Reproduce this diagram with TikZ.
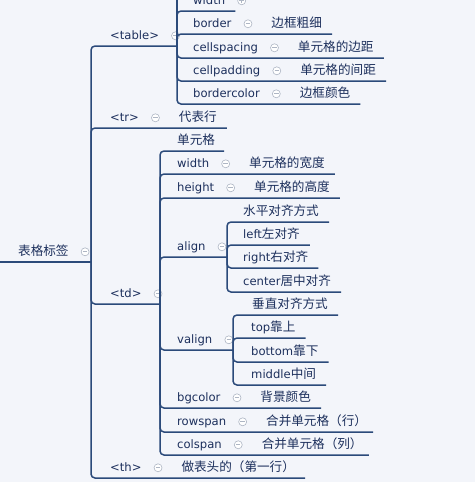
\documentclass[tikz,border=0pt]{standalone}
\usepackage{fontspec}
\setmainfont{DejaVu Sans}
\newfontfamily\zhfont{Noto Sans CJK SC}
\usepackage{tikz}
\usetikzlibrary{positioning}
\definecolor{mapbg}  {HTML}{F3F5FA}
\definecolor{mapline}{HTML}{2B4A7A}
\definecolor{mapink} {HTML}{1C2F5C}
\definecolor{mapfold}{HTML}{AEB6C4}
\newcommand{\zh}[1]{{\zhfont\fontsize{12.6}{15}\selectfont #1}}

\begin{document}
\begin{tikzpicture}[
  x=1pt, y=-1pt,
  topic/.style={anchor=south west,inner sep=0pt,text height=14pt,text depth=6pt,
                font=\fontsize{11.6}{14}\selectfont,text=mapink},
  fold/.style={circle,draw=mapfold,fill=white,minimum size=8pt,inner sep=0pt,line width=0.6pt,
               path picture={\draw[mapfold,line width=0.7pt]
                 ([xshift=-2.2pt]path picture bounding box.center) --
                 ([xshift=2.2pt]path picture bounding box.center);}},
  foldplus/.style={circle,draw=mapfold,fill=white,minimum size=8pt,inner sep=0pt,line width=0.6pt,
               path picture={\draw[mapfold,line width=0.7pt]
                 ([xshift=-2.2pt]path picture bounding box.center) --
                 ([xshift=2.2pt]path picture bounding box.center)
                 ([yshift=-2.2pt]path picture bounding box.center) --
                 ([yshift=2.2pt]path picture bounding box.center);}},
  link/.style={draw=mapline,line width=1.5pt,rounded corners=4pt}
]
\useasboundingbox (0,0) rectangle (475,482);
\clip (0,0) rectangle (475,482);
\fill[mapbg] (0,0) rectangle (475,482);

%% central topic (left)
\coordinate (rootl) at (-4,262);
\coordinate (rootj) at (91,262);
\node[topic] (root) at (18,262) {\zh{表格标签}};
\node[fold,right=12pt of root] (rootf) {};
\draw[link] (rootl) -- (rootj);

%% level 1: <table> <tr> <td> <th>
\node[topic] (tbl) at (110,46) {<table>};
\node[fold,right=12pt of tbl] (tblf) {};
\coordinate (tblj) at (177,46);
\draw[link] (rootj) -- (rootj |- tbl.south) -- (tblj);

\node[topic] (tr) at (110,128) {<tr>};
\node[fold,right=12pt of tr] (trf) {};
\node[topic,right=19pt of trf] (trn) {\zh{代表行}};
\draw[link] (rootj) -- (rootj |- tr.south) -- ([xshift=10pt]trn.south east);

\node[topic] (td) at (110,304) {<td>};
\node[fold,right=12pt of td] (tdf) {};
\coordinate (tdj) at (160,304);
\draw[link] (rootj) -- (rootj |- td.south) -- (tdj);

\node[topic] (th) at (110,478) {<th>};
\node[fold,right=12pt of th] (thf) {};
\node[topic,right=19pt of thf] (thn) {\zh{做表头的（第一行）}};
\draw[link] (rootj) -- (rootj |- th.south) -- ([xshift=10pt]thn.south east);

%% <table> attributes (top is cut off)
\coordinate (tbltop) at (177,-12);
\draw[link] (tblj) -- (tbltop);

\node[topic] (twidth) at (193,11) {width};
\node[foldplus,right=12pt of twidth] (twidthf) {};
\draw[link] (tblj) -- (tblj |- twidth.south) -- ([xshift=10pt]twidth.south east);

\node[topic] (border) at (193,34) {border};
\node[fold,right=12pt of border] (borderf) {};
\node[topic,right=19pt of borderf] (bordern) {\zh{边框粗细}};
\draw[link] (tblj) -- (tblj |- border.south) -- ([xshift=10pt]bordern.south east);

\node[topic] (cspace) at (193,58) {cellspacing};
\node[fold,right=12pt of cspace] (cspacef) {};
\node[topic,right=19pt of cspacef] (cspacen) {\zh{单元格的边距}};
\draw[link] (tblj) -- (tblj |- cspace.south) -- ([xshift=10pt]cspacen.south east);

\node[topic] (cpad) at (193,81) {cellpadding};
\node[fold,right=12pt of cpad] (cpadf) {};
\node[topic,right=19pt of cpadf] (cpadn) {\zh{单元格的间距}};
\draw[link] (tblj) -- (tblj |- cpad.south) -- ([xshift=10pt]cpadn.south east);

\node[topic] (bcolor) at (193,104) {bordercolor};
\node[fold,right=12pt of bcolor] (bcolorf) {};
\node[topic,right=19pt of bcolorf] (bcolorn) {\zh{边框颜色}};
\draw[link] (tblj) -- (tblj |- bcolor.south) -- ([xshift=10pt]bcolorn.south east);

%% <td> attributes
\node[topic] (cell) at (177,151) {\zh{单元格}};
\draw[link] (tdj) -- (tdj |- cell.south) -- ([xshift=9pt]cell.south east);

\node[topic] (dwidth) at (177,174) {width};
\node[fold,right=12pt of dwidth] (dwidthf) {};
\node[topic,right=19pt of dwidthf] (dwidthn) {\zh{单元格的宽度}};
\draw[link] (tdj) -- (tdj |- dwidth.south) -- ([xshift=10pt]dwidthn.south east);

\node[topic] (dheight) at (177,198) {height};
\node[fold,right=12pt of dheight] (dheightf) {};
\node[topic,right=19pt of dheightf] (dheightn) {\zh{单元格的高度}};
\draw[link] (tdj) -- (tdj |- dheight.south) -- ([xshift=10pt]dheightn.south east);

\node[topic] (align) at (177,257) {align};
\node[fold,right=12pt of align] (alignf) {};
\coordinate (alignj) at (227,257);
\draw[link] (tdj) -- (tdj |- align.south) -- (alignj);

\node[topic] (valign) at (177,350) {valign};
\node[fold,right=12pt of valign] (valignf) {};
\coordinate (valignj) at (233,350);
\draw[link] (tdj) -- (tdj |- valign.south) -- (valignj);

\node[topic] (bg) at (177,408) {bgcolor};
\node[fold,right=12pt of bg] (bgf) {};
\node[topic,right=19pt of bgf] (bgn) {\zh{背景颜色}};
\draw[link] (tdj) -- (tdj |- bg.south) -- ([xshift=10pt]bgn.south east);

\node[topic] (rspan) at (177,432) {rowspan};
\node[fold,right=12pt of rspan] (rspanf) {};
\node[topic,right=19pt of rspanf] (rspann) {\zh{合并单元格（行）}};
\draw[link] (tdj) -- (tdj |- rspan.south) -- ([xshift=6pt]rspann.south east);

\node[topic] (cspan) at (177,455) {colspan};
\node[fold,right=12pt of cspan] (cspanf) {};
\node[topic,right=19pt of cspanf] (cspann) {\zh{合并单元格（列）}};
\draw[link] (tdj) -- (tdj |- cspan.south) -- ([xshift=6pt]cspann.south east);

%% align values
\node[topic] (hal) at (243,222) {\zh{水平对齐方式}};
\draw[link] (alignj) -- (alignj |- hal.south) -- ([xshift=10pt]hal.south east);
\node[topic] (aleft) at (243,245) {left\zh{左对齐}};
\draw[link] (alignj) -- (alignj |- aleft.south) -- ([xshift=10pt]aleft.south east);
\node[topic] (aright) at (243,268) {right\zh{右对齐}};
\draw[link] (alignj) -- (alignj |- aright.south) -- ([xshift=10pt]aright.south east);
\node[topic] (acenter) at (243,292) {center\zh{居中对齐}};
\draw[link] (alignj) -- (alignj |- acenter.south) -- ([xshift=10pt]acenter.south east);

%% valign values
\node[topic] (val) at (252,315) {\zh{垂直对齐方式}};
\draw[link] (valignj) -- (valignj |- val.south) -- ([xshift=10pt]val.south east);
\node[topic] (vtop) at (251,338) {top\zh{靠上}};
\draw[link] (valignj) -- (valignj |- vtop.south) -- ([xshift=10pt]vtop.south east);
\node[topic] (vbot) at (251,362) {bottom\zh{靠下}};
\draw[link] (valignj) -- (valignj |- vbot.south) -- ([xshift=10pt]vbot.south east);
\node[topic] (vmid) at (251,385) {middle\zh{中间}};
\draw[link] (valignj) -- (valignj |- vmid.south) -- ([xshift=10pt]vmid.south east);

\end{tikzpicture}
\end{document}
